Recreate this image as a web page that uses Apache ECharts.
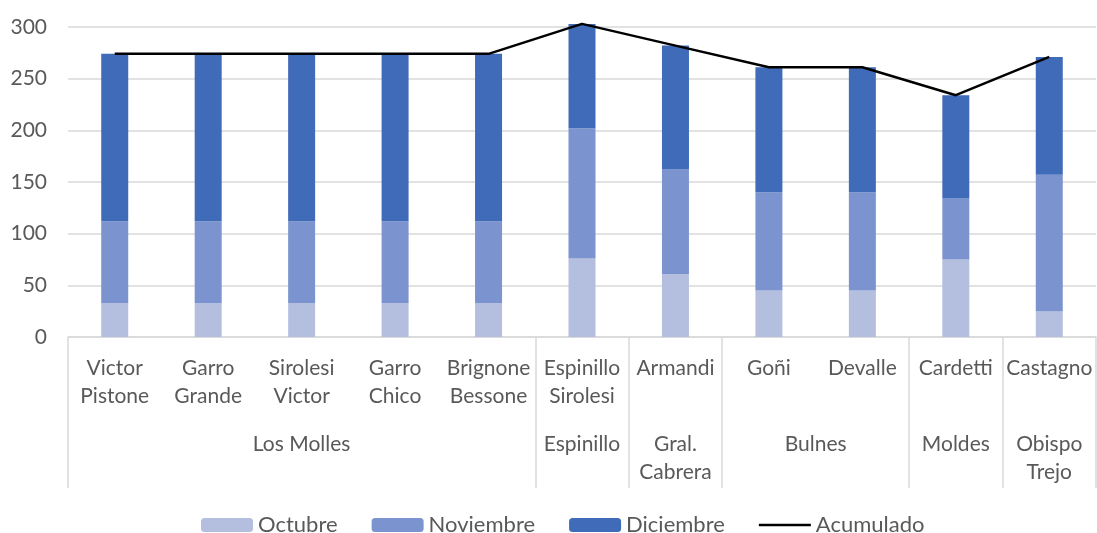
<!DOCTYPE html>
<html>
<head>
<meta charset="utf-8">
<script src="https://cdn.jsdelivr.net/npm/echarts@6/dist/echarts.min.js"></script>
<style>html,body{margin:0;padding:0;background:#fff;}#c{width:1097px;height:533px;}</style>
</head>
<body>
<div id="c"></div>
<script>
const categories = ['Victor\nPistone','Garro\nGrande','Sirolesi\nVictor','Garro\nChico','Brignone\nBessone','Espinillo\nSirolesi','Armandi','Goñi','Devalle','Cardetti','Castagno'];
const groups = ['Los Molles','Espinillo','Gral.\nCabrera','Bulnes','Moldes','Obispo\nTrejo'];
const groupSizes = [5,1,1,2,1,1];
const octubre   = [33,33,33,33,33,76,61,45,45,75,25];
const noviembre = [79,79,79,79,79,126,101,95,95,59,132];
const diciembre = [162,162,162,162,162,101,120,121,121,100,114];
const acumulado = [274,274,274,274,274,303,282,261,261,234,271];
const yTicks = [0,50,100,150,200,250,300];

// group boundaries and centres on a -0.5..n-0.5 value scale
const bounds = [-0.5]; const centres = [];
groupSizes.forEach(s => { const a = bounds[bounds.length-1]; bounds.push(a + s); centres.push(a + s/2); });

const FONT = 'Lato';
const TXT = '#595959';
const chart = echarts.init(document.getElementById('c'));
chart.setOption({
  animation: false,
  textStyle: {fontFamily: FONT},
  grid: {left: 68, right: 1, top: 27, bottom: 196},
  legend: {
    left: 196, top: 509, itemWidth: 52, itemHeight: 14, itemGap: 34,
    textStyle: {fontFamily: FONT, fontSize: 22, color: TXT},
    data: ['Octubre','Noviembre','Diciembre',
      {name: 'Acumulado', icon: 'path://M0,0L52,0L52,2.5L0,2.5Z', itemStyle: {color: '#000'}}]
  },
  xAxis: [
    {
      type: 'category', data: categories, position: 'bottom',
      axisLine: {show: true, lineStyle: {color: '#d9d9d9', width: 1.5}},
      axisTick: {show: false},
      axisLabel: {interval: 0, margin: 17, fontSize: 21, lineHeight: 28, color: TXT, fontFamily: FONT, hideOverlap: false}
    },
    {
      type: 'value', min: -0.5, max: categories.length - 0.5, position: 'bottom',
      axisLine: {show: false},
      splitLine: {show: false},
      axisTick: {show: true, customValues: bounds, length: 151, lineStyle: {color: '#d9d9d9', width: 1.5}},
      axisLabel: {
        customValues: centres, margin: 93, fontSize: 21, lineHeight: 28, color: TXT, fontFamily: FONT,
        formatter: v => { const i = centres.findIndex(c => Math.abs(c - v) < 1e-6); return i >= 0 ? groups[i] : ''; }
      }
    }
  ],
  yAxis: {
    type: 'value', min: 0, max: 300, interval: 50,
    axisLine: {show: false}, axisTick: {show: false},
    splitLine: {lineStyle: {color: '#d9d9d9', width: 1.5}},
    axisLabel: {fontSize: 21, color: TXT, margin: 21, fontFamily: FONT, customValues: yTicks}
  },
  series: [
    {name: 'Octubre', type: 'bar', stack: 's', barWidth: 27, clip: false, data: octubre, itemStyle: {color: '#b4bfdf'}},
    {name: 'Noviembre', type: 'bar', stack: 's', barWidth: 27, clip: false, data: noviembre, itemStyle: {color: '#7b93ce'}},
    {name: 'Diciembre', type: 'bar', stack: 's', barWidth: 27, clip: false, data: diciembre, itemStyle: {color: '#3f6bb8'}},
    {name: 'Acumulado', type: 'line', data: acumulado, symbol: 'none', clip: false, lineStyle: {color: '#000', width: 2.5}, itemStyle: {color: '#000'}, z: 5}
  ]
});
</script>
</body>
</html>
